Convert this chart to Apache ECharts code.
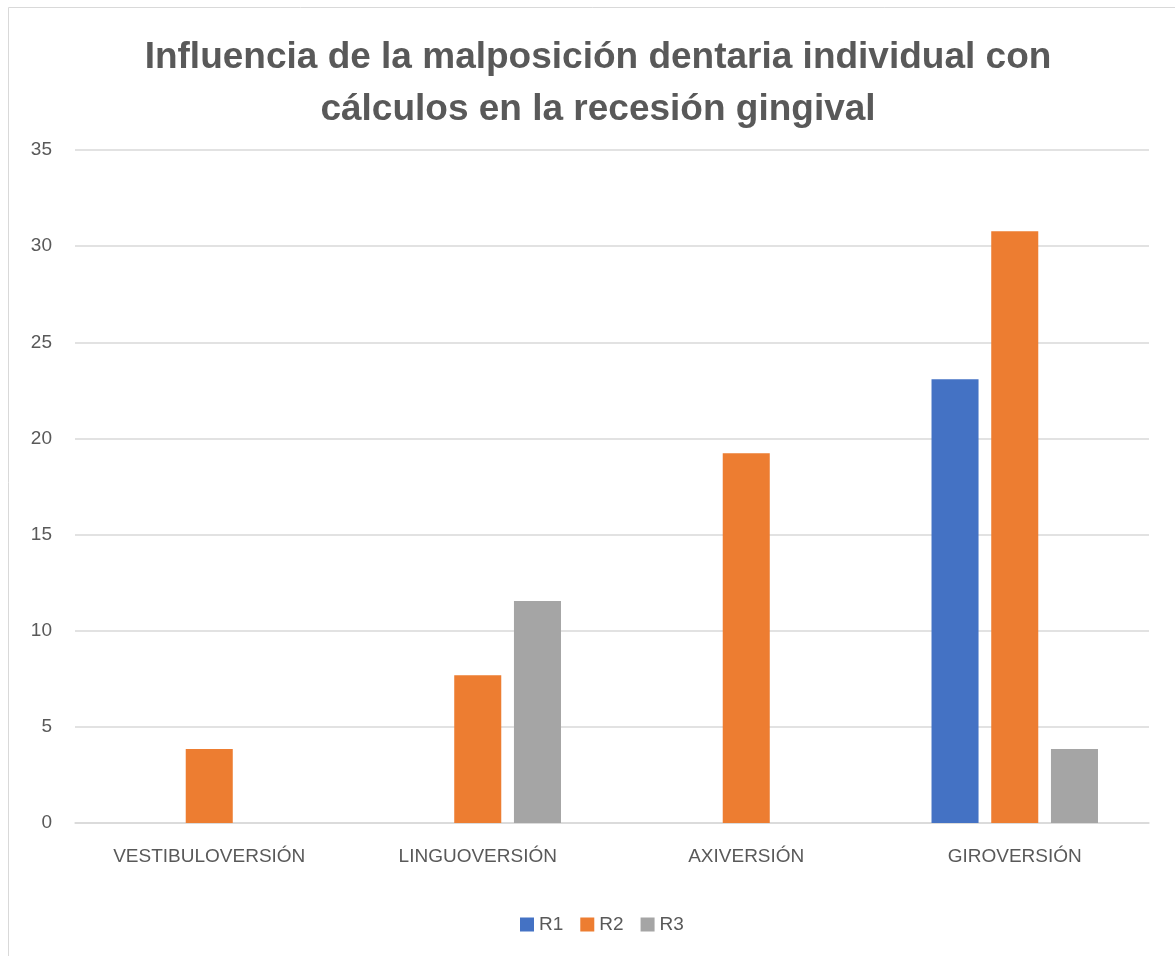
<!DOCTYPE html>
<html>
<head>
<meta charset="utf-8">
<script src="https://cdn.jsdelivr.net/npm/echarts@6/dist/echarts.min.js"></script>
<style>
html,body{margin:0;padding:0;background:#fff;}
#chart{width:1175px;height:956px;}
</style>
</head>
<body>
<div id="chart"></div>
<script>
const titleText = 'Influencia de la malposición dentaria individual con\ncálculos en la recesión gingival';
const categories = ['VESTIBULOVERSIÓN', 'LINGUOVERSIÓN', 'AXIVERSIÓN', 'GIROVERSIÓN'];
const seriesNames = ['R1', 'R2', 'R3'];
const r1 = [0, 0, 0, 23.08];
const r2 = [3.85, 7.69, 19.23, 30.77];
const r3 = [0, 11.54, 0, 3.85];
const yMin = 0, yMax = 35, yStep = 5;
const colors = ['#4472C4', '#ED7D31', '#A5A5A5'];

const textColor = '#595959';
const font = 'Liberation Sans, Arial, sans-serif';
const chart = echarts.init(document.getElementById('chart'));
const values = [r1, r2, r3];
chart.setOption({
  animation: false,
  color: colors,
  graphic: [{
    type: 'rect', silent: true,
    shape: { x: 8.5, y: 7.5, width: 1300, height: 1100 },
    style: { fill: 'none', stroke: '#d9d9d9', lineWidth: 1 }
  }],
  title: {
    text: titleText,
    left: 593,
    textAlign: 'center',
    top: 27,
    textStyle: { color: textColor, fontFamily: font, fontWeight: 'bold', fontSize: 37, lineHeight: 52 }
  },
  legend: {
    data: seriesNames,
    bottom: 17,
    left: 515,
    icon: 'rect',
    itemWidth: 14, itemHeight: 14,
    itemGap: 17,
    textStyle: { color: textColor, fontFamily: font, fontSize: 19 }
  },
  grid: { left: 75, right: 26, top: 150, bottom: 133, containLabel: false },
  xAxis: {
    type: 'category',
    data: categories,
    axisLine: { lineStyle: { color: '#d9d9d9', width: 1.5 } },
    axisTick: { show: false },
    axisLabel: { color: textColor, fontFamily: font, fontSize: 19, margin: 24 }
  },
  yAxis: {
    type: 'value',
    min: yMin, max: yMax, interval: yStep,
    axisLine: { show: false },
    axisTick: { show: false },
    splitLine: { lineStyle: { color: '#d9d9d9', width: 1.5 } },
    axisLabel: { color: textColor, fontFamily: font, fontSize: 19, margin: 23, padding: [8, 0, 0, 0] }
  },
  series: seriesNames.map((n, i) => ({
    name: n,
    type: 'bar',
    data: values[i],
    barGap: '27%',
    barCategoryGap: '38%',
    itemStyle: { color: colors[i] }
  }))
});
</script>
</body>
</html>
